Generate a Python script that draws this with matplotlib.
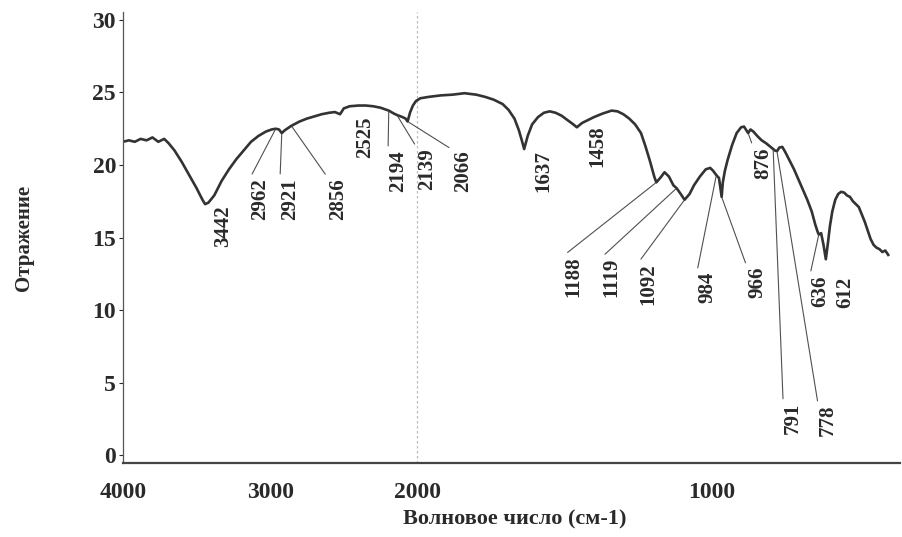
import numpy as np
import matplotlib
matplotlib.use("Agg")
import matplotlib.pyplot as plt

# ---- data (wavenumber, reflectance) ----
wavenumber = [4000, 3960, 3920, 3880, 3840, 3800, 3760, 3720, 3690, 3650, 3600, 3550, 3500, 3460,
              3442, 3420, 3380, 3330, 3280, 3230, 3180, 3130, 3080, 3030, 2990, 2962, 2940, 2921,
              2900, 2856, 2800, 2750, 2700, 2650, 2600, 2560, 2525, 2500, 2460, 2400, 2350, 2300,
              2250, 2194, 2160, 2139, 2100, 2080, 2066, 2050, 2030, 2010, 1990, 1960, 1920, 1880,
              1840, 1800, 1770, 1740, 1710, 1690, 1670, 1655, 1645, 1637, 1625, 1610, 1590, 1570,
              1550, 1530, 1510, 1490, 1470, 1458, 1440, 1420, 1400, 1370, 1340, 1320, 1300, 1280,
              1260, 1240, 1225, 1210, 1195, 1188, 1175, 1160, 1145, 1130, 1119, 1105, 1092, 1075,
              1060, 1040, 1020, 1005, 995, 984, 975, 970, 966, 962, 955, 945, 930, 915, 900, 890,
              882, 876, 868, 858, 845, 830, 815, 800, 791, 785, 778, 770, 760, 750, 735, 720, 705,
              690, 675, 660, 648, 640, 636, 628, 620, 612, 605, 598, 590, 580, 570, 560, 550, 540,
              530, 520, 510, 500, 490, 480, 470, 460, 450, 440, 430, 420, 410, 400]
reflectance = [21.6, 21.7, 21.6, 21.8, 21.7, 21.9, 21.6, 21.8, 21.5, 21.0, 20.2, 19.3, 18.4, 17.6,
               17.3, 17.4, 17.9, 18.9, 19.7, 20.4, 21.0, 21.6, 22.0, 22.3, 22.45, 22.5, 22.45, 22.2,
               22.4, 22.7, 23.0, 23.2, 23.35, 23.5, 23.6, 23.65, 23.5, 23.9, 24.05, 24.1, 24.1, 24.05,
               23.95, 23.75, 23.55, 23.45, 23.3, 23.2, 23.0, 23.6, 24.1, 24.4, 24.6, 24.7, 24.8, 24.85,
               24.95, 24.85, 24.7, 24.5, 24.2, 23.8, 23.2, 22.4, 21.7, 21.1, 22.0, 22.8, 23.3, 23.6,
               23.7, 23.6, 23.4, 23.1, 22.8, 22.6, 22.9, 23.1, 23.3, 23.55, 23.75, 23.7, 23.5, 23.2,
               22.8, 22.2, 21.3, 20.3, 19.2, 18.8, 19.1, 19.5, 19.2, 18.6, 18.4, 18.0, 17.6, 18.0,
               18.6, 19.2, 19.7, 19.8, 19.6, 19.3, 19.1, 18.4, 17.8, 18.8, 19.6, 20.4, 21.4, 22.2, 22.6, 22.65,
               22.4, 22.2, 22.45, 22.3, 22.0, 21.7, 21.5, 21.25, 21.1, 21.0, 20.95, 21.2, 21.25, 20.9, 20.3, 19.7, 19.0,
               18.3, 17.6, 16.8, 15.9, 15.4, 15.2, 15.3, 14.5, 13.5, 14.6, 15.8, 16.8, 17.6, 18.0, 18.15, 18.1, 17.9,
               17.8, 17.5, 17.3, 17.1, 16.6, 16.1, 15.5, 14.9, 14.5, 14.3, 14.2, 14.0, 14.1, 13.8]

# ---- peak labels ----
peak_labels = ['3442', '2962', '2921', '2856', '2525', '2194', '2139', '2066', '1637', '1458',
               '1188', '1119', '1092', '984', '966', '876', '791', '778', '636', '612']
peak_wn = [3442, 2962, 2921, 2856, 2525, 2194, 2139, 2066, 1637, 1458,
           1188, 1119, 1092, 984, 966, 876, 791, 778, 636, 612]
# layout: text top-centre position (data coords) and whether a leader line is drawn
label_x = [3320, 3069, 2865, 2539, 2355, 2131, 1967, 1845, 1573, 1389,
           1471, 1342, 1216, 1016, 846, 825, 723, 604, 632, 547]
label_y = [17.24, 19.10, 19.10, 19.10, 23.31, 21.03, 21.17, 21.03, 21.03, 22.76,
           13.72, 13.59, 13.24, 12.62, 12.97, 21.24, 3.59, 3.45, 12.41, 12.28]
has_leader = [False, True, True, True, False, True, True, True, False, False,
              True, True, True, True, True, True, True, True, True, False]

x_ticks = [4000, 3000, 2000, 1000]
y_ticks = [0, 5, 10, 15, 20, 25, 30]

plt.rcParams['font.family'] = ['Liberation Serif', 'DejaVu Serif']

fig = plt.figure(figsize=(9.02, 5.37), dpi=100)
ax = fig.add_axes([123/902, 1-463/537, 777/902, 451/537])


def fwd(w):
    w = np.asarray(w, dtype=float)
    return np.where(w > 2000, 2000 + (w - 2000) / 2.0, w)


def inv(t):
    t = np.asarray(t, dtype=float)
    return np.where(t > 2000, 2000 + (t - 2000) * 2.0, t)


ax.set_xscale('function', functions=(fwd, inv))
ax.set_xlim(4000, 360)
ax.set_ylim(-0.55, 30.55)

line_col = '#333333'
ax.plot(wavenumber, reflectance, color=line_col, lw=1.9, solid_joinstyle='round')
ax.axvline(2000, color='#bdbdbd', lw=0.9, ls=(0, (2, 2)), zorder=0)

wn_inc = np.array(wavenumber[::-1], dtype=float)
rf_inc = np.array(reflectance[::-1], dtype=float)
for lab, pw, lx, ly, lead in zip(peak_labels, peak_wn, label_x, label_y, has_leader):
    py = float(np.interp(pw, wn_inc, rf_inc))
    kw = dict(rotation=90, ha='center', va='top', fontsize=15, fontweight='bold',
              color='#2a2a2a', textcoords='data')
    if lead:
        kw['arrowprops'] = dict(arrowstyle='-', color='#505050', lw=0.8,
                                relpos=(0.0, 1.0), shrinkA=1, shrinkB=1)
    ax.annotate(lab, xy=(pw, py), xytext=(lx, ly), **kw)

ax.set_xticks(x_ticks)
ax.set_xticklabels([str(v) for v in x_ticks])
ax.set_yticks(y_ticks)
ax.xaxis.set_minor_locator(matplotlib.ticker.NullLocator())
ax.tick_params(axis='x', length=0, pad=14, labelsize=17, colors='#2a2a2a')
ax.tick_params(axis='y', length=3, width=0.8, pad=2, labelsize=17, colors='#2a2a2a')
for t in ax.get_xticklabels() + ax.get_yticklabels():
    t.set_fontweight('bold')

for s in ['top', 'right']:
    ax.spines[s].set_visible(False)
ax.spines['left'].set_color('#555555')
ax.spines['bottom'].set_color('#444444')
ax.spines['bottom'].set_linewidth(1.6)
ax.spines['left'].set_linewidth(0.9)

ax.set_xlabel('Волновое число (см-1)', fontsize=16, fontweight='bold', color='#2a2a2a')
ax.xaxis.set_label_coords(0.504, -0.104)
ax.set_ylabel('Отражение', fontsize=15, fontweight='bold', color='#2a2a2a')
ax.yaxis.set_label_coords(-0.1145, 0.50)

fig.savefig('out.png', dpi=100)
